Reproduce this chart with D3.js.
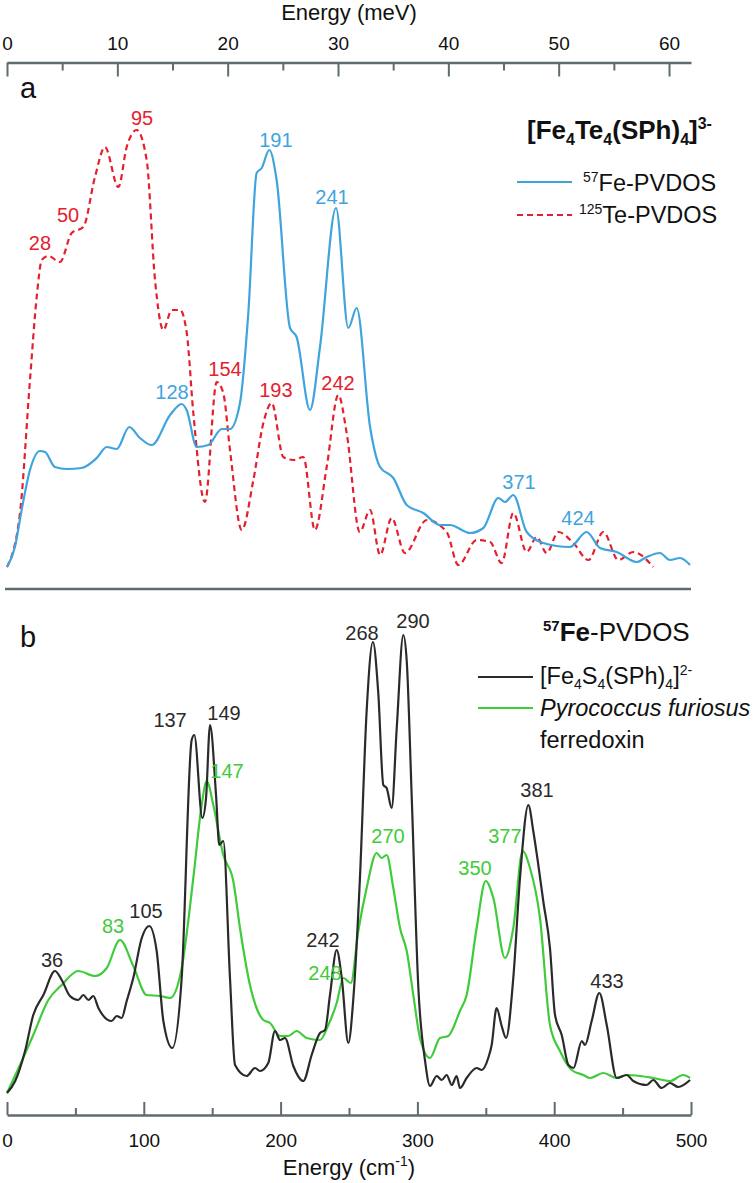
<!DOCTYPE html>
<html><head><meta charset="utf-8">
<script src="https://cdn.jsdelivr.net/npm/d3@7"></script>
<style>
html,body{margin:0;padding:0;background:#fff;}
svg text{font-family:"Liberation Sans",Arial,sans-serif;}
</style></head>
<body>
<svg id="chart" width="755" height="1183"></svg>
<script>
// ---------- DATA ----------
// panel a: [Fe4Te4(SPh)4]3-  (x in cm-1, intensity arbitrary)
const feTeX = [0,5.8,10.7,16.8,24,27.8,35,43.6,54.6,65.6,72.9,80.2,89.4,97.2,105.8,119.2,127.7,131.3,138.7,147.2,157,163,170.3,176.4,182.5,186.2,191.7,197.1,206.9,211.7,221.5,228.8,240.5,249.5,255.6,265.4,272.7,282.4,292.2,304.3,316.5,323.8,338.5,348.2,359.2,364,370.1,379.9,392,411.5,423.7,433.5,445.7,460.3,467.6,477.3,484.6,492,499.3];
const feTeY = [0,20,57,97,116,115,100,98,99,109,120,118,140,129,122,152,163,157,120,122,138,138,164,254,394,399,417,387,239,230,157,220,359,239,259,140,100,89,62,54,42,42,34,39,69,65,72,35,24,20,35,19,15,5,10,14,7,9,2];
const teX = [0,9.5,16.8,21.7,25.4,30.2,38.7,47.3,55.8,64.3,71.6,81.4,87.5,94.8,102.1,108.2,114.3,120.4,126.5,131.4,136.2,144.7,153.3,158.1,163,171.6,180.1,187.4,193.5,202,209.3,216.6,225.1,233.7,242.2,248.3,257.9,265.4,272.7,281.2,290.9,306.8,321.4,329.9,343.3,353.1,361.6,370.1,379.9,387.2,394.5,403,414,425,435.9,446.9,457.8,472.4];
const teY = [0,54,187,270,307,311,305,334,340,390,420,380,420,437,407,287,237,257,257,234,154,65,185,174,117,37,87,144,164,110,107,110,37,100,172,134,35,57,12,49,14,47,35,2,27,25,4,54,15,30,14,35,24,7,35,7,15,0];
// panel b
const fesX = [0,6,13.2,19.2,26.6,35.1,40,46,52.1,55.8,59.5,63.1,66.8,76.5,80.2,83.8,87.5,92.3,98.5,104,109.4,114.3,120.8,127.7,135,136.9,142.8,145.5,148.4,152.8,155.2,158.1,163,166.7,175.2,181.3,184.9,191,195.9,199.6,203.2,209.3,216.6,222.7,228.8,232.5,236.1,241,244.7,249.5,253.2,258,262.9,267.5,271.4,275.1,277.5,281.2,284.9,289.7,292.2,295.8,300.7,305.6,309.2,314.1,317.8,321.4,325.1,328.7,331.1,336,343.3,347,351.8,354.3,357.9,361.6,364.8,370.1,375,381.1,384.7,388.4,392,396.9,400.6,405.5,410.4,414.1,420.2,422.5,427.4,433,438.4,445.7,453,457.8,467.6,472.4,478.5,484.6,490.7,499.3];
const fesY = [0,12,42,78,98,122,113,97,93,98,93,97,85,72,77,75,92,115,155,167,142,72,45,115,353,358,275,295,368,298,248,252,115,28,17,25,22,30,62,53,55,27,12,38,60,63,98,143,115,50,95,215,382,451,400,308,305,285,365,458,432,298,105,32,7,17,13,18,8,17,5,15,25,23,35,48,85,67,55,115,215,288,262,228,192,145,78,58,28,25,52,48,72,100,68,15,18,12,8,13,5,10,6,13];
const pfX = [0,9.5,19.2,30.2,40,52.1,64.3,72.9,82.6,92.3,102.1,111.8,119.2,127.7,136.2,142.3,146,150.8,158.1,165.4,170.3,177.6,187.4,192.3,199.6,205.6,211.7,219,228.8,234.9,241,245.9,251.3,256.8,262.9,270.2,273.9,277.5,282.4,287.3,292.2,297,301.9,309.2,316.5,322.6,331.1,336,343.3,349.9,355.5,364,370.1,376.9,382.3,389.6,396.9,404.2,412.8,421.3,426.2,435.9,445.7,453,462.7,472.4,484.6,494.3,499.3];
const pfY = [0,28,58,93,108,122,117,125,153,127,98,97,95,125,215,288,312,288,238,212,165,108,73,70,57,57,62,55,53,68,90,115,110,162,205,240,235,238,205,165,142,98,55,35,55,57,82,98,165,212,195,135,165,242,225,175,68,42,23,18,15,20,15,18,17,15,12,18,15];

// peak labels: text, x (cm-1), height (intensity units)
const labelsATe = [["28",24.1,324],["50",44.6,352],["95",98.7,449],["154",159.4,198],["193",196.6,177],["242",242,184]];
const labelsAFe = [["128",120.6,175],["191",196.6,427],["241",237.6,370],["371",374.3,85],["424",417.4,49]];
const labelsBFeS = [["36",32.9,133],["105",101.6,182],["137",119.2,373],["149",158.6,380],["242",231,153],["268",259.5,460],["290",296.8,472],["381",387.4,303],["433",438.6,112]];
const labelsBPf = [["83",77.5,167],["147",160.8,322],["248",232.5,120],["270",278.5,257],["350",342.1,225],["377",364,257]];

// axis ticks
const meVMajor = [0,10,20,30,40,50,60];
const meVMinor = [5,15,25,35,45,55];
const cmMajor = [0,100,200,300,400,500];
const cmMinor = [50,150,250,350,450];

// colours
const cBlue = "#3fa4dd", cRed = "#e5202e", cBlack = "#2a2a2a", cGreen = "#3fcb3a", cAxis = "#5f6b6f";

// ---------- DRAW ----------
const svg = d3.select("#chart");
const x = d3.scaleLinear().domain([0,500]).range([7,691]);
const xMeV = d3.scaleLinear().domain([0,500/8.0655]).range([7,691]);
const yA = d3.scaleLinear().domain([0,440]).range([567,127]);
const yB = d3.scaleLinear().domain([0,460]).range([1093,633]);

// top axis (meV)
const topG = svg.append("g").attr("transform","translate(0,62.5)");
topG.call(d3.axisTop(xMeV).tickValues(meVMajor).tickSizeInner(-14).tickSizeOuter(0).tickPadding(13).tickFormat(d3.format("d")));
const topMinor = svg.append("g").attr("transform","translate(0,62.5)");
topMinor.call(d3.axisTop(xMeV).tickValues(meVMinor).tickSizeInner(-8).tickSizeOuter(0).tickFormat(""));
topMinor.select(".domain").remove();
svg.append("text").attr("x",349).attr("y",20).attr("text-anchor","middle").attr("font-size",22).attr("fill","#111").text("Energy (meV)");

// bottom axis (cm-1)
const botG = svg.append("g").attr("transform","translate(0,1115)");
botG.call(d3.axisBottom(x).tickValues(cmMajor).tickSizeInner(-13).tickSizeOuter(0).tickPadding(19).tickFormat(d3.format("d")));
const botMinor = svg.append("g").attr("transform","translate(0,1115)");
botMinor.call(d3.axisBottom(x).tickValues(cmMinor).tickSizeInner(-7).tickSizeOuter(0).tickFormat(""));
botMinor.select(".domain").remove();
const bt = svg.append("text").attr("x",349).attr("y",1175).attr("text-anchor","middle").attr("font-size",22).attr("fill","#111");
bt.append("tspan").text("Energy (cm");
bt.append("tspan").attr("font-size",14).attr("dy",-9).text("-1");
bt.append("tspan").attr("dy",9).text(")");

svg.selectAll(".domain").attr("stroke",cAxis).attr("stroke-width",2.5);
svg.selectAll(".tick line").attr("stroke",cAxis).attr("stroke-width",2);
svg.selectAll(".tick text").attr("font-size",19).attr("fill","#111").attr("font-family","Liberation Sans, Arial, sans-serif");

// separator line
svg.append("line").attr("x1",x(0)-2).attr("x2",x(500)).attr("y1",589).attr("y2",589).attr("stroke",cAxis).attr("stroke-width",2.5);

// panel letters
svg.append("text").attr("x",20).attr("y",98).attr("font-size",29).attr("fill","#111").text("a");
svg.append("text").attr("x",20).attr("y",647).attr("font-size",29).attr("fill","#111").text("b");

// lines
function drawLine(xs, ys, yS, color, dash){
  const pts = xs.map((v,i)=>[v, ys[i]]);
  const line = d3.line().x(d=>x(d[0])).y(d=>yS(d[1])).curve(d3.curveMonotoneX);
  const p = svg.append("path").datum(pts).attr("d",line).attr("fill","none").attr("stroke",color).attr("stroke-width",2.2).attr("stroke-linejoin","round");
  if (dash) p.attr("stroke-dasharray",dash);
}
drawLine(teX, teY, yA, cRed, "6,4");
drawLine(feTeX, feTeY, yA, cBlue, null);
drawLine(pfX, pfY, yB, cGreen, null);
drawLine(fesX, fesY, yB, cBlack, null);

function drawLabels(arr, yS, color){
  svg.append("g").selectAll("text").data(arr).join("text")
    .attr("x", d=>x(d[1])).attr("y", d=>yS(d[2]))
    .attr("text-anchor","middle").attr("dominant-baseline","central")
    .attr("font-size",20).attr("fill",color).text(d=>d[0]);
}
drawLabels(labelsATe, yA, cRed);
drawLabels(labelsAFe, yA, cBlue);
drawLabels(labelsBFeS, yB, cBlack);
drawLabels(labelsBPf, yB, cGreen);

// legend a
const ta = svg.append("text").attr("x",527).attr("y",139).attr("font-size",26).attr("font-weight","bold").attr("fill","#111");
ta.append("tspan").text("[Fe");
ta.append("tspan").attr("font-size",16).attr("dy",6).text("4");
ta.append("tspan").attr("dy",-6).text("Te");
ta.append("tspan").attr("font-size",16).attr("dy",6).text("4");
ta.append("tspan").attr("dy",-6).text("(SPh)");
ta.append("tspan").attr("font-size",16).attr("dy",6).text("4");
ta.append("tspan").attr("dy",-6).text("]");
ta.append("tspan").attr("font-size",16).attr("dy",-10).text("3-");

svg.append("line").attr("x1",517).attr("x2",572).attr("y1",182).attr("y2",182).attr("stroke",cBlue).attr("stroke-width",2.2);
const la1 = svg.append("text").attr("x",583).attr("y",191).attr("font-size",23.5).attr("fill","#111");
la1.append("tspan").attr("font-size",14).attr("dy",-9).text("57");
la1.append("tspan").attr("dy",9).text("Fe-PVDOS");
svg.append("line").attr("x1",517).attr("x2",572).attr("y1",215).attr("y2",215).attr("stroke",cRed).attr("stroke-width",2.2).attr("stroke-dasharray","6,4");
const la2 = svg.append("text").attr("x",579).attr("y",223).attr("font-size",23.5).attr("fill","#111");
la2.append("tspan").attr("font-size",14).attr("dy",-9).text("125");
la2.append("tspan").attr("dy",9).text("Te-PVDOS");

// legend b
const tb = svg.append("text").attr("x",543).attr("y",641).attr("font-size",26).attr("fill","#111");
tb.append("tspan").attr("font-size",15).attr("font-weight","bold").attr("dy",-10).text("57");
tb.append("tspan").attr("font-weight","bold").attr("dy",10).text("Fe");
tb.append("tspan").text("-PVDOS");

svg.append("line").attr("x1",478).attr("x2",533).attr("y1",677).attr("y2",677).attr("stroke",cBlack).attr("stroke-width",2.2);
const lb1 = svg.append("text").attr("x",540).attr("y",684).attr("font-size",23.5).attr("fill","#111");
lb1.append("tspan").text("[Fe");
lb1.append("tspan").attr("font-size",14).attr("dy",5).text("4");
lb1.append("tspan").attr("dy",-5).text("S");
lb1.append("tspan").attr("font-size",14).attr("dy",5).text("4");
lb1.append("tspan").attr("dy",-5).text("(SPh)");
lb1.append("tspan").attr("font-size",14).attr("dy",5).text("4");
lb1.append("tspan").attr("dy",-5).text("]");
lb1.append("tspan").attr("font-size",14).attr("dy",-9).text("2-");
svg.append("line").attr("x1",478).attr("x2",533).attr("y1",708).attr("y2",708).attr("stroke",cGreen).attr("stroke-width",2.2);
svg.append("text").attr("x",540).attr("y",716).attr("font-size",23.5).attr("font-style","italic").attr("fill","#111").text("Pyrococcus furiosus");
svg.append("text").attr("x",540).attr("y",748).attr("font-size",23.5).attr("fill","#111").text("ferredoxin");
</script>
</body></html>
